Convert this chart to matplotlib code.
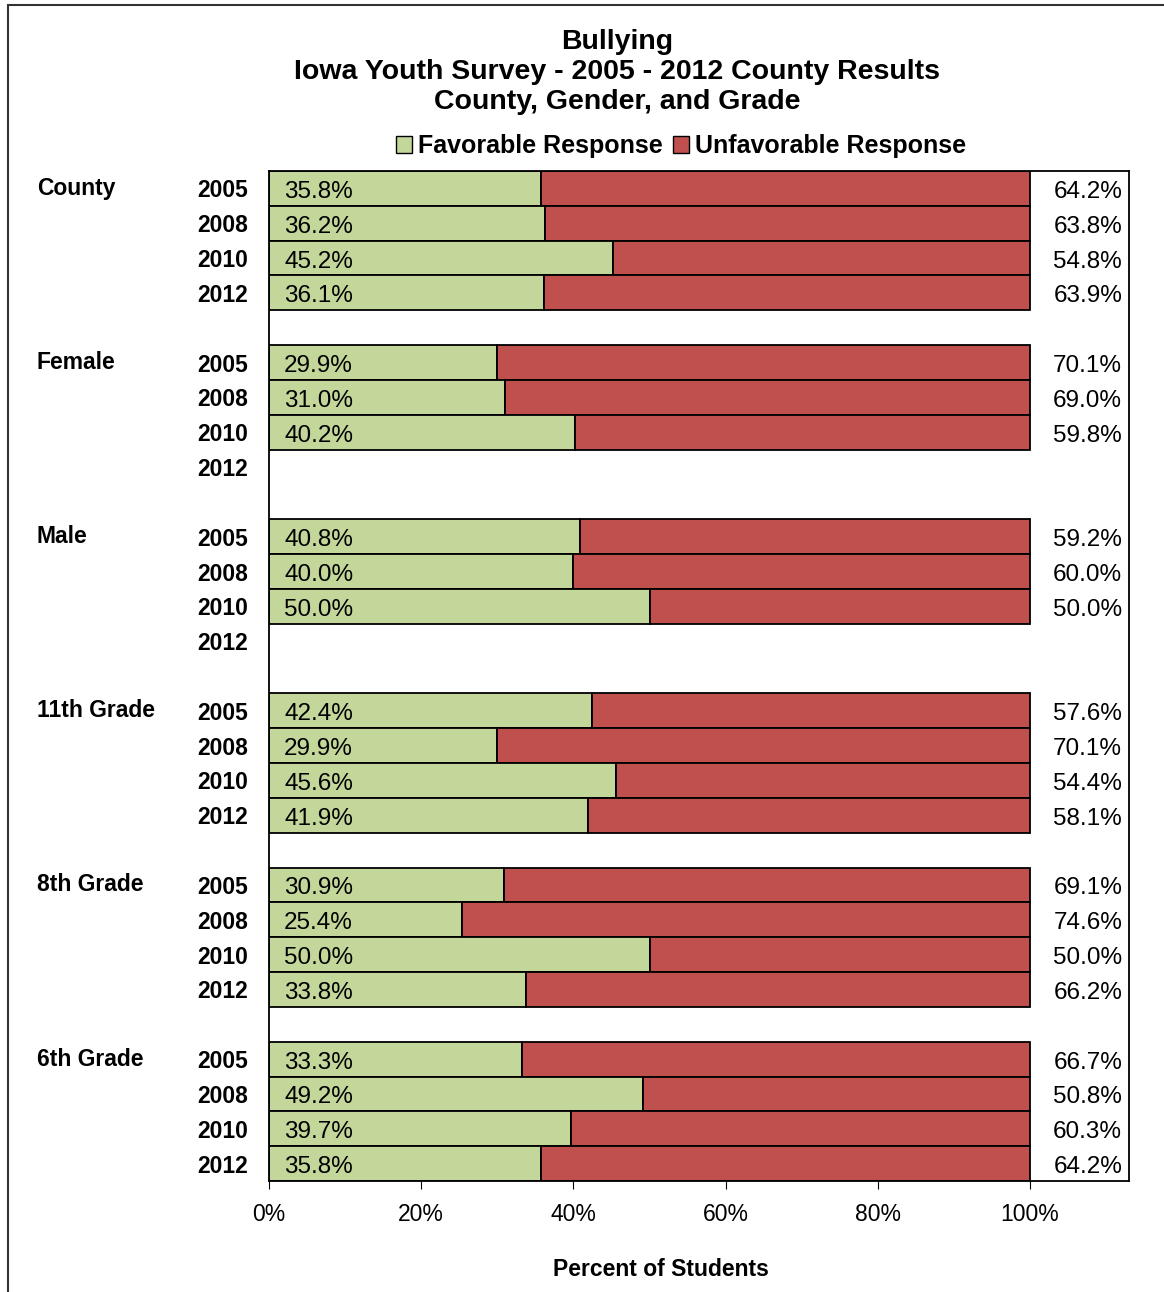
import matplotlib
matplotlib.use('Agg')
import matplotlib.pyplot as plt
import matplotlib.transforms as mtransforms
from matplotlib.patches import Patch, Rectangle
import numpy as np

plt.rcParams['font.family'] = ['Liberation Sans', 'DejaVu Sans']

# Datos
groups = ["County", "Female", "Male", "11th Grade", "8th Grade", "6th Grade"]
years = ["2005", "2008", "2010", "2012"]
favorable = [
    [35.8, 36.2, 45.2, 36.1],
    [29.9, 31.0, 40.2, np.nan],
    [40.8, 40.0, 50.0, np.nan],
    [42.4, 29.9, 45.6, 41.9],
    [30.9, 25.4, 50.0, 33.8],
    [33.3, 49.2, 39.7, 35.8],
]
unfavorable = [
    [64.2, 63.8, 54.8, 63.9],
    [70.1, 69.0, 59.8, np.nan],
    [59.2, 60.0, 50.0, np.nan],
    [57.6, 70.1, 54.4, 58.1],
    [69.1, 74.6, 50.0, 66.2],
    [66.7, 50.8, 60.3, 64.2],
]

green = "#C4D79B"
red = "#C0504D"

fig = plt.figure(figsize=(11.64, 12.92), dpi=100)
ax = fig.add_axes([269 / 1164, 1 - 1181 / 1292, (1129 - 269) / 1164, (1181 - 171) / 1292])

# marco exterior
fig.patches.append(Rectangle((8 / 1164, -0.1), 1.2, 1 - 5 / 1292 + 0.1,
                             transform=fig.transFigure, fill=False,
                             edgecolor="#333333", linewidth=1.5))

trans = mtransforms.blended_transform_factory(fig.transFigure, ax.transData)
slots = []
ylabels = []
for g in range(len(groups)):
    for j in range(len(years)):
        y = g * 5 + j
        slots.append(y)
        ylabels.append(years[j])
        fav = favorable[g][j]
        unf = unfavorable[g][j]
        if np.isnan(fav):
            continue
        ax.barh(y, fav, height=1.0, color=green, edgecolor="black", linewidth=1.3)
        ax.barh(y, unf, left=fav, height=1.0, color=red, edgecolor="black", linewidth=1.3)
        ax.text(2.0, y + 0.1, "%.1f%%" % fav, ha="left", va="center", fontsize=17.5)
        ax.text(112.1, y + 0.1, "%.1f%%" % unf, ha="right", va="center", fontsize=17.5)
    ax.text(37 / 1164, g * 5, groups[g], transform=trans, ha="left", va="center",
            fontsize=16.5, fontweight="bold")

ax.set_xlim(0, 113)
ax.set_ylim(28.5, -0.5)
ax.set_yticks(slots)
ax.set_yticklabels(ylabels, fontsize=16.5, fontweight="bold")
ax.tick_params(axis="y", length=0, pad=15)
ax.set_xticks([0, 20, 40, 60, 80, 100])
ax.set_xticklabels(["0%", "20%", "40%", "60%", "80%", "100%"], fontsize=16.5)
ax.tick_params(axis="x", direction="out", length=6, pad=10)
for s in ax.spines.values():
    s.set_linewidth(1.3)

ax.text(51.5, 1 - 1270 / 1292, "Percent of Students",
        transform=mtransforms.blended_transform_factory(ax.transData, fig.transFigure),
        ha="center", va="center", fontsize=16.5, fontweight="bold")

fig.text(617 / 1164, 1 - 72 / 1292,
         "Bullying\nIowa Youth Survey - 2005 - 2012 County Results\nCounty, Gender, and Grade",
         ha="center", va="center", fontsize=20.5, fontweight="bold", linespacing=1.22)

handles = [Patch(facecolor=green, edgecolor="black", label="Favorable Response"),
           Patch(facecolor=red, edgecolor="black", label="Unfavorable Response")]
fig.legend(handles=handles, loc="center", bbox_to_anchor=(681 / 1164, 1 - 146 / 1292), ncol=2,
           frameon=False, prop={"size": 18, "weight": "bold"}, handlelength=0.65,
           handleheight=0.65, handletextpad=0.25, columnspacing=0.4)

fig.savefig("out.png", dpi=100)
